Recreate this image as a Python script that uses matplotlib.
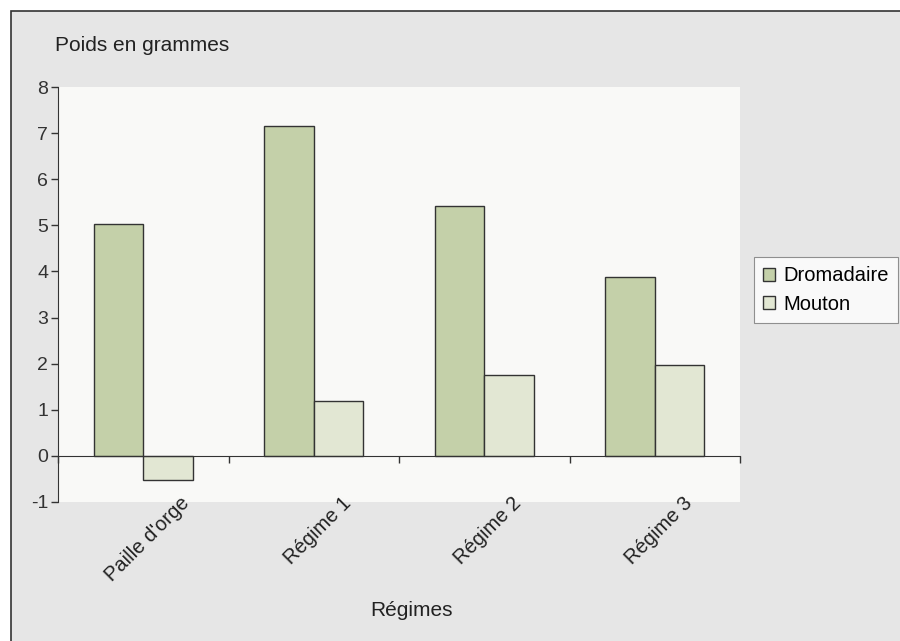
import numpy as np
import matplotlib.pyplot as plt
import matplotlib.transforms as mtransforms
from matplotlib.patches import Rectangle

plt.rcParams['font.family'] = ['Liberation Sans', 'DejaVu Sans']
plt.rcParams['axes.unicode_minus'] = False

# data
categories = ["Paille d'orge", "Régime 1", "Régime 2", "Régime 3"]
dromadaire = [5.02, 7.15, 5.41, 3.87]
mouton = [-0.52, 1.2, 1.75, 1.98]
series_names = ['Dromadaire', 'Mouton']
colors = ['#c4d0a9', '#e2e7d3']

fig = plt.figure(figsize=(9, 6.41), dpi=100, facecolor='white')

# grey chart frame
fig.patches.append(Rectangle((11 / 900, -0.01), 1.0, 1 - 11 / 641 + 0.01,
                             transform=fig.transFigure, facecolor='#e6e6e6',
                             edgecolor='#333333', linewidth=1.2, zorder=-10))

ax = fig.add_axes([58 / 900, 1 - 502 / 641, (740 - 58) / 900, (502 - 87) / 641])
ax.set_zorder(1)
ax.set_facecolor('#f9f9f7')

x = np.arange(len(categories))
w = 0.29
ax.bar(x - w / 2, dromadaire, w, color=colors[0], edgecolor='#333333',
       linewidth=1, label=series_names[0], zorder=2)
ax.bar(x + w / 2, mouton, w, color=colors[1], edgecolor='#333333',
       linewidth=1, label=series_names[1], zorder=2)

ax.set_xlim(-0.5, len(categories) - 0.5)
ax.set_ylim(-1, 8)
ax.set_yticks(range(-1, 9))
ax.tick_params(axis='y', direction='out', length=5, width=1, labelsize=14,
               colors='#333333', pad=2)

for s in ['top', 'right']:
    ax.spines[s].set_visible(False)
ax.spines['left'].set_color('#333333')
ax.spines['bottom'].set_position(('data', 0))
ax.spines['bottom'].set_color('#333333')

ax.set_xticks(x)
ax.set_xticklabels(categories, rotation=45, ha='center', va='top', fontsize=14.5)
ax.set_xticks(np.arange(-0.5, len(categories)), minor=True)
ax.tick_params(axis='x', which='major', length=0, pad=27, colors='#222222')
ax.tick_params(axis='x', which='minor', direction='out', length=5, width=1,
               colors='#333333')
# nudge the rotated labels a little to the right
shift = mtransforms.ScaledTranslation(4 / 100, 0, fig.dpi_scale_trans)
for lbl in ax.get_xticklabels():
    lbl.set_transform(lbl.get_transform() + shift)

fig.text(55 / 900, 1 - 51 / 641, 'Poids en grammes', fontsize=15,
         color='#222222', va='baseline')
fig.text(411 / 900, 1 - 611 / 641, 'Régimes', fontsize=15, color='#222222',
         ha='center', va='center')

leg = ax.legend(loc='center left', bbox_to_anchor=(754 / 900, 1 - 290 / 641),
                bbox_transform=fig.transFigure, fontsize=14.5, frameon=True,
                fancybox=False, edgecolor='#777777', handlelength=0.6,
                handleheight=0.6, handletextpad=0.4, borderpad=0.45,
                labelspacing=0.45, borderaxespad=0)
leg.get_frame().set_linewidth(0.8)

fig.savefig('out.png', dpi=100, facecolor='white')
